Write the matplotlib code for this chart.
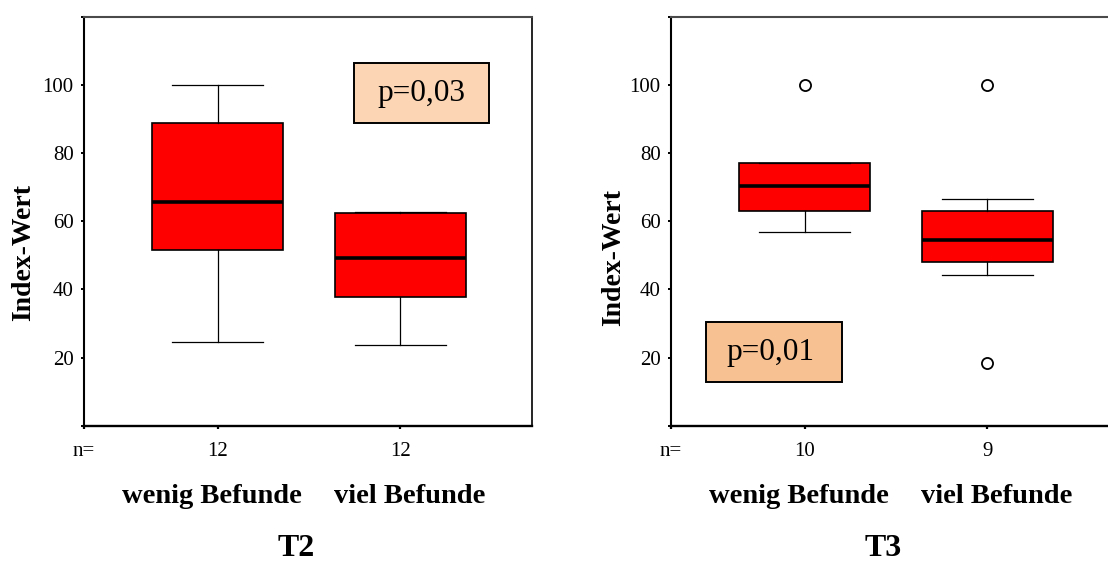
import numpy as np
import matplotlib.pyplot as plt
from matplotlib.patches import Rectangle

plt.rcParams['font.family'] = ['Liberation Serif', 'DejaVu Serif']

# ── DATA ──────────────────────────────────────────────────────
groups = ['wenig Befunde', 'viel Befunde']
panels = ['T2', 'T3']
n_counts = {'T2': [12, 12], 'T3': [10, 9]}
p_values = {'T2': 'p=0,03', 'T3': 'p=0,01'}

# five-number summaries per group: whislo, q1, med, q3, whishi
t2_wenig = [24.5, 51.6, 65.7, 88.8, 100.0]
t2_viel = [23.7, 37.7, 49.3, 62.4, 62.8]
t3_wenig = [56.7, 62.9, 70.3, 77.1, 77.1]
t3_viel = [44.1, 48.1, 54.4, 62.9, 66.4]

t2_fliers = [[], []]
t3_fliers = [[100.0], [100.0, 18.4]]

y_ticks = [0, 20, 40, 60, 80, 100, 120]
y_ticklabels = ['', '20', '40', '60', '80', '100', '']


def make_stats(summaries, fliers):
    stats = []
    for (lo, q1, med, q3, hi), fl in zip(summaries, fliers):
        stats.append(dict(whislo=lo, q1=q1, med=med, q3=q3, whishi=hi,
                          fliers=np.array(fl)))
    return stats


def draw_panel(ax, name, stats, pbox, pcolor, ptext_dx, ylab_xy):
    ax.bxp(stats, positions=[1, 2], widths=0.717, capwidths=0.5,
           showfliers=True, patch_artist=True,
           boxprops=dict(facecolor='#ff0000', edgecolor='black', linewidth=1.2),
           medianprops=dict(color='black', linewidth=2.6),
           whiskerprops=dict(color='black', linewidth=0.9),
           capprops=dict(color='black', linewidth=0.9),
           flierprops=dict(marker='o', markersize=8, markerfacecolor='white',
                           markeredgecolor='black', markeredgewidth=1.3))

    xmin, xmax = 0.267, 2.72
    ax.set_xlim(xmin, xmax)
    ax.set_ylim(0, 120)

    ax.set_yticks(y_ticks)
    ax.set_yticklabels(y_ticklabels)
    ax.set_xticks([xmin, 1, 2])
    ax.set_xticklabels(['n='] + [str(n) for n in n_counts[name]])
    ax.tick_params(axis='y', length=2.5, width=1.4, pad=5, labelsize=15)
    ax.tick_params(axis='x', length=2.5, width=1.6, pad=9, labelsize=15)

    ax.spines['left'].set_linewidth(1.5)
    ax.spines['bottom'].set_linewidth(1.7)
    ax.spines['top'].set_linewidth(1.5)
    ax.spines['top'].set_color('#4a4a4a')
    ax.spines['right'].set_linewidth(1.2)

    # p-value annotation box
    x0, x1, y0, y1 = pbox
    ax.add_patch(Rectangle((x0, y0), x1 - x0, y1 - y0, facecolor=pcolor,
                           edgecolor='black', linewidth=1.4, zorder=3))
    ax.text((x0 + x1) / 2 + ptext_dx, (y0 + y1) / 2, p_values[name],
            ha='center', va='center', fontsize=22.5, zorder=4)

    ax.text(ylab_xy[0], ylab_xy[1], 'Index-Wert', rotation=90,
            ha='center', va='center', fontsize=20, fontweight='bold',
            transform=ax.transAxes)

    ax.text(0.97, -0.174, groups[0], ha='center', va='center', fontsize=20.5,
            fontweight='bold', transform=ax.get_xaxis_transform())
    ax.text(2.05, -0.174, groups[1], ha='center', va='center', fontsize=20.5,
            fontweight='bold', transform=ax.get_xaxis_transform())
    ax.text(1.43, -0.318, name, ha='center', va='baseline', fontsize=23,
            fontweight='bold', transform=ax.get_xaxis_transform())


fig = plt.figure(figsize=(11.08, 5.64), dpi=100)
W, H = 1108, 564
ax1 = fig.add_axes([84 / W, 138.3 / H, 447.7 / W, 409 / H])
ax2 = fig.add_axes([671 / W, 138.3 / H, 447.7 / W, 409 / H])

draw_panel(ax1, 'T2', make_stats([t2_wenig, t2_viel], t2_fliers),
           (1.746, 2.484, 88.7, 106.5), '#fbd5b4', 0.0, (-0.1345, 0.4235))
draw_panel(ax2, 'T3', make_stats([t3_wenig, t3_viel], t3_fliers),
           (0.459, 1.203, 12.8, 30.4), '#f8c192', -0.02, (-0.129, 0.411))

fig.savefig('out.png', dpi=100)
